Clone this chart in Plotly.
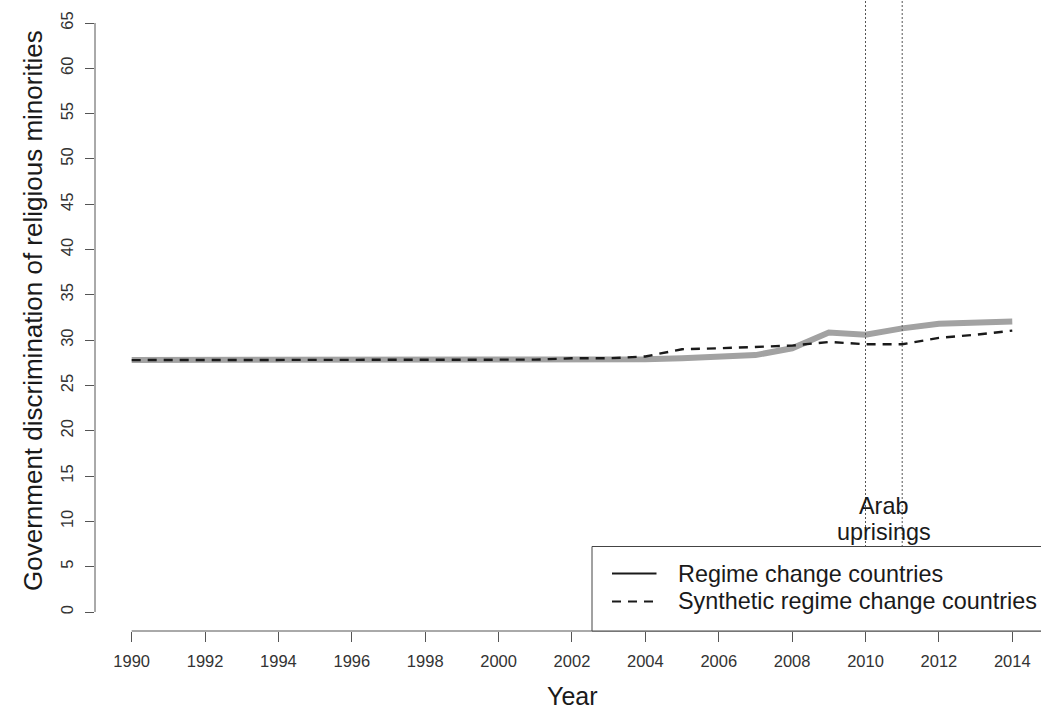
import plotly.graph_objects as go

years = list(range(1990, 2015))
regime_change = [27.8, 27.8, 27.8, 27.8, 27.8, 27.8, 27.8, 27.8, 27.8, 27.8,
                 27.8, 27.8, 27.8, 27.8, 27.9, 28.0, 28.2, 28.35, 29.1, 30.85,
                 30.6, 31.3, 31.8, 32.0, 32.05]
synthetic = [27.8, 27.8, 27.8, 27.8, 27.8, 27.8, 27.8, 27.8, 27.8, 27.8,
             27.8, 27.85, 28.0, 28.0, 28.2, 29.0, 29.1, 29.25, 29.4, 29.8,
             29.55, 29.55, 30.25, 30.6, 31.05]
event_years = [2010, 2011]
event_label = ["Arab", "uprisings"]
legend_labels = ["Regime change countries", "Synthetic regime change countries"]
x_ticks = list(range(1990, 2015, 2))
y_ticks = list(range(0, 70, 5))

FONT = "Liberation Sans, Arial, sans-serif"
W, H = 1041, 712
ML, MR, MT, MB = 95, 0, 0, 81
PW, PH = W - ML - MR, H - MT - MB
XR = [1989.0, 2014.783]
YR = [-2.097, 67.538]


def px_x(px):
    return (px - ML) / PW


def px_y(py):
    return (MT + PH - py) / PH


def xdata_to_paper(v):
    return (v - XR[0]) / (XR[1] - XR[0])


def ydata_to_paper(v):
    return (v - YR[0]) / (YR[1] - YR[0])


fig = go.Figure()
fig.add_trace(go.Scatter(x=years, y=regime_change, mode="lines",
                         line=dict(color="#a2a2a2", width=6),
                         showlegend=False, hoverinfo="skip"))
fig.add_trace(go.Scatter(x=years, y=synthetic, mode="lines",
                         line=dict(color="#1a1a1a", width=2.4, dash="9px,7px"),
                         showlegend=False, hoverinfo="skip"))

shapes = []
for ev in event_years:
    shapes.append(dict(type="line", xref="x", yref="paper", x0=ev, x1=ev, y0=0, y1=1,
                       line=dict(color="#555555", width=1, dash="2px,2px"), layer="above"))

# R-style axis lines (only across the tick range)
shapes.append(dict(type="line", xref="paper", yref="paper",
                   x0=0, x1=0, y0=ydata_to_paper(y_ticks[0]), y1=ydata_to_paper(y_ticks[-1]),
                   line=dict(color="#555555", width=1)))
shapes.append(dict(type="line", xref="paper", yref="paper",
                   x0=xdata_to_paper(x_ticks[0]), x1=1, y0=0, y1=0,
                   line=dict(color="#555555", width=1)))

# legend box
shapes.append(dict(type="rect", xref="paper", yref="paper",
                   x0=px_x(592), x1=1.05, y0=0, y1=px_y(546.5),
                   fillcolor="white", line=dict(color="#444444", width=1), layer="above"))
shapes.append(dict(type="line", xref="paper", yref="paper",
                   x0=px_x(612), x1=px_x(656.5), y0=px_y(573.5), y1=px_y(573.5),
                   line=dict(color="#1a1a1a", width=2.2), layer="above"))
shapes.append(dict(type="line", xref="paper", yref="paper",
                   x0=px_x(612), x1=px_x(656.5), y0=px_y(601.5), y1=px_y(601.5),
                   line=dict(color="#1a1a1a", width=2.2, dash="9px,7px"), layer="above"))

annotations = []
annotations.append(dict(text=legend_labels[0], xref="paper", yref="paper",
                        x=px_x(676), y=px_y(574), xanchor="left", yanchor="middle",
                        showarrow=False, font=dict(family=FONT, size=23.4, color="#1a1a1a")))
annotations.append(dict(text=legend_labels[1], xref="paper", yref="paper",
                        x=px_x(676), y=px_y(601), xanchor="left", yanchor="middle",
                        showarrow=False, font=dict(family=FONT, size=23.4, color="#1a1a1a")))

mid_event = sum(event_years) / len(event_years)
annotations.append(dict(text=event_label[0], xref="x", yref="paper",
                        x=mid_event, y=px_y(506), xanchor="center", yanchor="middle",
                        showarrow=False, font=dict(family=FONT, size=23.4, color="#1a1a1a")))
annotations.append(dict(text=event_label[1], xref="x", yref="paper",
                        x=mid_event, y=px_y(532), xanchor="center", yanchor="middle",
                        showarrow=False, font=dict(family=FONT, size=23.4, color="#1a1a1a")))

# axis titles
annotations.append(dict(text="Year", xref="paper", yref="paper",
                        x=px_x(572), y=px_y(696), xanchor="center", yanchor="middle",
                        showarrow=False, font=dict(family=FONT, size=25, color="#1a1a1a")))
annotations.append(dict(text="Government discrimination of religious minorities",
                        xref="paper", yref="paper", textangle=-90,
                        x=px_x(33), y=px_y(311), xanchor="center", yanchor="middle",
                        showarrow=False, font=dict(family=FONT, size=26, color="#1a1a1a")))

fig.update_layout(
    width=W, height=H,
    margin=dict(l=ML, r=MR, t=MT, b=MB, pad=0),
    paper_bgcolor="white", plot_bgcolor="white",
    showlegend=False,
    shapes=shapes, annotations=annotations,
    font=dict(family=FONT, color="#333333"),
    xaxis=dict(range=XR, tickmode="array", tickvals=x_ticks,
               ticktext=[str(t) for t in x_ticks],
               ticks="outside", ticklen=10, tickwidth=1, tickcolor="#555555",
               ticklabelstandoff=5,
               tickfont=dict(family=FONT, size=16.5, color="#333333"),
               showgrid=False, zeroline=False, showline=False),
    yaxis=dict(range=YR, tickmode="array", tickvals=y_ticks,
               ticktext=[str(t) for t in y_ticks], tickangle=-90,
               ticks="outside", ticklen=9, tickwidth=1, tickcolor="#555555",
               ticklabelstandoff=5,
               tickfont=dict(family=FONT, size=16.5, color="#333333"),
               showgrid=False, zeroline=False, showline=False),
)

fig.write_html("out.html",
               config={"displayModeBar": False},
               post_script="document.body.style.margin='0';"
                           "document.body.style.padding='0';"
                           "document.body.style.overflow='hidden';")
